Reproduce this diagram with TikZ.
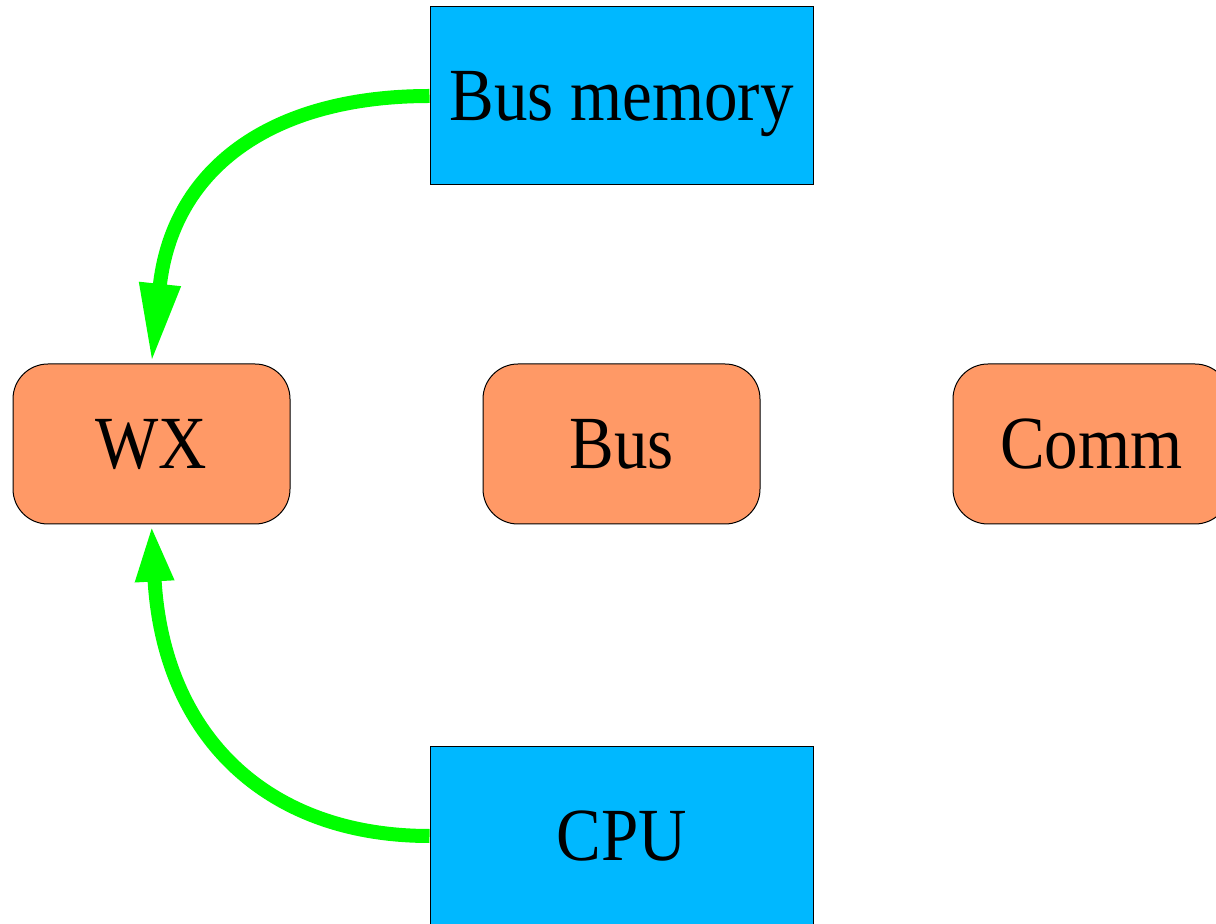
\documentclass[tikz,border=0pt]{standalone}
\usepackage{fontspec}
\setmainfont{Liberation Serif}
\usetikzlibrary{arrows.meta,positioning}
\definecolor{boxblue}{HTML}{00B8FF}
\definecolor{boxorange}{HTML}{FF9966}
\definecolor{linkgreen}{HTML}{00FF00}
\newcommand{\tallword}[1]{\scalebox{1}[1.12]{#1}}

\begin{document}
\begin{tikzpicture}[x=0.5pt,y=-0.5pt,
  unit/.style={draw=black, line width=0.5pt, fill=boxblue, minimum width=191.5pt, minimum height=89pt, inner sep=0pt, text depth=0pt, font=\fontsize{33.5}{40}\selectfont},
  part/.style={draw=black, line width=0.5pt, fill=boxorange, rounded corners=17.5pt, minimum width=138.5pt, minimum height=80pt, inner sep=0pt, text depth=0pt, font=\fontsize{33.5}{40}\selectfont},
  link/.style={draw=linkgreen, line width=7pt}]
\useasboundingbox (0,0) rectangle (1216,924);
\clip (0,0) rectangle (1216,924);
\node [unit] (busmem) at (621.5,96) {\tallword{Bus memory}};
\node [unit] (cpu) at (621.5,836) {\tallword{CPU}};
\node [part] (wx) at (151.5,444) {\tallword{WX}};
\node [part] (bus) at (621.5,444) {\tallword{Bus}};
\node [part] (comm) at (1091.5,444) {\tallword{Comm}};
\draw[link, -{Triangle[length=40pt,width=19pt,fill=linkgreen]}] (busmem.west) .. controls (268,96) and (172,171) .. (wx.north);
\draw[link, -{Triangle[length=28.5pt,width=17.5pt,fill=linkgreen]}] (cpu.west) .. controls (265,836) and (163,734) .. (wx.south);
\end{tikzpicture}
\end{document}
